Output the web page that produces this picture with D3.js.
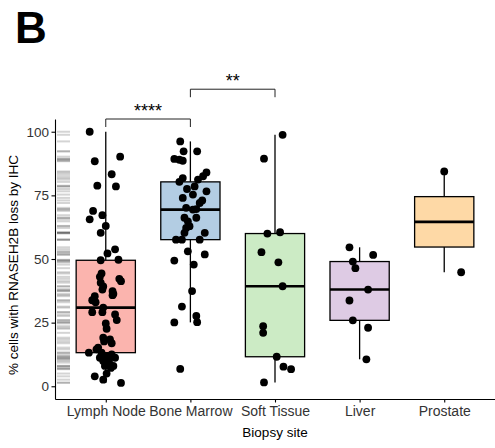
<!DOCTYPE html>
<html>
<head>
<meta charset="utf-8">
<script src="https://cdn.jsdelivr.net/npm/d3@7"></script>
<style>
  body { margin: 0; background: #fff; }
  svg { display: block; font-family: "Liberation Sans", Arial, sans-serif; }
</style>
</head>
<body>
<svg id="chart" width="495" height="448"></svg>
<script>
// Biopsy sites in display order
const sites = ["Lymph Node", "Bone Marrow", "Soft Tissue", "Liver", "Prostate"];
const siteFills = ["#FBB4AE", "#B3CDE3", "#CCEBC5", "#DECBE4", "#FED9A6"];

// % cells with RNASEH2B loss, one value per sample, with its horizontal jitter (in category widths)
const lymphNodeValues = [100, 90.2, 88.4, 83.3, 78.8, 78.5, 68.9, 67.2, 65.6, 63.0, 60.3, 53.8, 52.2,
  49.5, 49.7, 44.3, 42.2, 41.3, 40.7, 38.0, 37.4, 36.3, 35.4, 33.8, 30.9, 29.1, 29.1, 28.2, 26.0,
  24.7, 22.6, 19.1, 18.4, 16.9, 15.2, 14.5, 13.2, 13.2, 12.5, 11.9, 11.2, 11.2, 9.9, 9.3, 8.0, 8.0,
  5.0, 3.9, 2.6, 1.3, 10.6, 7.2, 17.6, 43.0, 39.2, 35.8, 33.0];
const lymphNodeJitter = [-0.19, 0.17, -0.13, 0.07, -0.10, 0.12, -0.15, -0.04, -0.19, 0.00, -0.06, 0.11, 0.02,
  -0.06, 0.15, -0.05, 0.16, 0.18, -0.06, -0.04, 0.08, 0.09, -0.13, -0.16, -0.03, -0.16, -0.04, 0.11, 0.13,
  0.00, 0.01, -0.03, 0.05, 0.07, -0.09, -0.11, -0.20, -0.05, 0.07, 0.01, -0.07, 0.11, -0.03, 0.04, 0.09, -0.01,
  0.01, -0.13, -0.03, 0.18, 0.03, 0.06, -0.02, -0.07, -0.03, 0.08, -0.12];

const boneMarrowValues = [96.2, 92.3, 92.3, 89.3, 89.0, 88.6, 84.0, 82.5, 81.8, 81.2, 80.3, 78.5, 77.5,
  76.6, 75.3, 74.0, 73.0, 72.0, 70.1, 69.6, 69.4, 66.2, 66.2, 64.8, 62.9, 62.2, 60.3, 60.3, 57.6, 57.6,
  57.6, 53.0, 51.8, 49.4, 47.8, 37.4, 31.3, 27.6, 25.2, 25.1, 6.8];
const boneMarrowJitter = [-0.12, -0.08, 0.08, -0.19, -0.13, -0.09, 0.19, 0.15, -0.09, 0.09, -0.13, 0.05, -0.04,
  0.19, 0.03, -0.09, 0.14, 0.11, -0.05, 0.07, 0.03, -0.07, 0.07, -0.03, -0.01, -0.05, -0.07, 0.17, -0.17, -0.10,
  0.11, -0.03, 0.17, -0.19, 0.04, 0.02, -0.10, 0.07, 0.08, -0.19, -0.12];

const softTissueValues = [98.8, 89.4, 60.5, 60.0, 52.7, 48.7, 39.3, 23.6, 21.0, 11.6, 7.7, 6.7, 1.5];
const softTissueJitter = [0.09, -0.13, 0.06, -0.09, -0.16, 0.04, 0.09, -0.14, -0.14, 0.02, 0.10, 0.19, -0.13];

const liverValues = [54.6, 51.6, 49.0, 46.4, 38.0, 33.7, 25.9, 23.0, 10.6];
const liverJitter = [-0.12, 0.16, -0.08, -0.05, 0.10, -0.12, -0.08, 0.10, 0.08];

const prostateValues = [84.4, 44.8];
const prostateJitter = [0.00, 0.20];

// Pairwise comparisons shown above the boxes
const comparisonPairs = [["Lymph Node", "Bone Marrow"], ["Bone Marrow", "Soft Tissue"]];
const comparisonLabels = ["****", "**"];
const comparisonLevels = [105, 116.7];

const yTicks = [0, 25, 50, 75, 100];

const groups = [
  { site: sites[0], values: lymphNodeValues, jitter: lymphNodeJitter, fill: siteFills[0] },
  { site: sites[1], values: boneMarrowValues, jitter: boneMarrowJitter, fill: siteFills[1] },
  { site: sites[2], values: softTissueValues, jitter: softTissueJitter, fill: siteFills[2] },
  { site: sites[3], values: liverValues, jitter: liverJitter, fill: siteFills[3] },
  { site: sites[4], values: prostateValues, jitter: prostateJitter, fill: siteFills[4] }
];

// Tukey box statistics
groups.forEach(g => {
  const s = g.values.slice().sort(d3.ascending);
  g.q1 = d3.quantileSorted(s, 0.25);
  g.median = d3.quantileSorted(s, 0.5);
  g.q3 = d3.quantileSorted(s, 0.75);
  const iqr = g.q3 - g.q1;
  g.lo = d3.min(s.filter(v => v >= g.q1 - 1.5 * iqr));
  g.hi = d3.max(s.filter(v => v <= g.q3 + 1.5 * iqr));
});

const svg = d3.select("#chart");
const panel = { left: 55, right: 495, top: 119, bottom: 399 };

const x = d3.scalePoint().domain(sites).range([panel.left, panel.right]).padding(0.6);
const y = d3.scaleLinear().domain([-5, 105]).range([panel.bottom, panel.top]);
const step = x.step();
const boxW = step * 0.7;

// Panel tag
svg.append("text")
  .attr("x", 15).attr("y", 43)
  .attr("font-size", 44).attr("font-weight", "bold")
  .attr("fill", "#000")
  .text("B");

// Rug of every sample along the y axis
const allValues = groups.flatMap(g => g.values);
svg.append("g")
  .selectAll("line")
  .data(allValues)
  .join("line")
  .attr("x1", panel.left + 2).attr("x2", panel.left + 15)
  .attr("y1", d => y(d)).attr("y2", d => y(d))
  .attr("stroke", "#000").attr("stroke-opacity", 0.17).attr("stroke-width", 2);

// Boxplots
const boxes = svg.append("g").selectAll("g").data(groups).join("g");
boxes.append("line")
  .attr("x1", d => x(d.site)).attr("x2", d => x(d.site))
  .attr("y1", d => y(d.q3)).attr("y2", d => y(d.hi))
  .attr("stroke", "#000").attr("stroke-width", 1.3);
boxes.append("line")
  .attr("x1", d => x(d.site)).attr("x2", d => x(d.site))
  .attr("y1", d => y(d.q1)).attr("y2", d => y(d.lo))
  .attr("stroke", "#000").attr("stroke-width", 1.3);
boxes.append("rect")
  .attr("x", d => x(d.site) - boxW / 2).attr("width", boxW)
  .attr("y", d => y(d.q3)).attr("height", d => y(d.q1) - y(d.q3))
  .attr("fill", d => d.fill).attr("stroke", "#000").attr("stroke-width", 1.3);
boxes.append("line")
  .attr("x1", d => x(d.site) - boxW / 2).attr("x2", d => x(d.site) + boxW / 2)
  .attr("y1", d => y(d.median)).attr("y2", d => y(d.median))
  .attr("stroke", "#000").attr("stroke-width", 2.6);

// Jittered sample points
const pts = groups.flatMap(g => g.values.map((v, i) => ({ site: g.site, v, j: g.jitter[i] })));
svg.append("g")
  .selectAll("circle")
  .data(pts)
  .join("circle")
  .attr("cx", d => x(d.site) + d.j * step)
  .attr("cy", d => y(d.v))
  .attr("r", 3.9)
  .attr("fill", "#000");

// Axes
const yAxis = svg.append("g")
  .attr("transform", `translate(${panel.left},0)`)
  .call(d3.axisLeft(y).tickValues(yTicks).tickSize(3.5).tickSizeOuter(0).tickPadding(2.5));
const xAxis = svg.append("g")
  .attr("transform", `translate(0,${panel.bottom})`)
  .call(d3.axisBottom(x).tickSize(3.5).tickSizeOuter(0).tickPadding(3.5));
[yAxis, xAxis].forEach(a => {
  a.selectAll("path, line").attr("stroke", "#000").attr("stroke-width", 1.1);
  a.selectAll("text").attr("fill", "#333")
    .attr("font-family", "'Liberation Sans', Arial, sans-serif");
});
yAxis.selectAll("text").attr("font-size", 13.5);
xAxis.selectAll("text").attr("font-size", 14);

// Axis titles
svg.append("text")
  .attr("x", (panel.left + panel.right) / 2).attr("y", 437)
  .attr("text-anchor", "middle").attr("font-size", 13.5).attr("fill", "#000")
  .text("Biopsy site");
svg.append("text")
  .attr("transform", `translate(18,${(panel.top + panel.bottom) / 2 + 6}) rotate(-90)`)
  .attr("text-anchor", "middle").attr("font-size", 13.5).attr("fill", "#000")
  .text("% cells with RNASEH2B loss by IHC");

// Significance brackets
const brackets = svg.append("g").selectAll("g")
  .data(comparisonPairs.map((p, i) => ({ a: p[0], b: p[1], label: comparisonLabels[i], level: comparisonLevels[i] })))
  .join("g");
brackets.append("path")
  .attr("d", d => `M${x(d.a)},${y(d.level) + 8}V${y(d.level)}H${x(d.b)}V${y(d.level) + 8}`)
  .attr("fill", "none").attr("stroke", "#222").attr("stroke-width", 1);
brackets.append("text")
  .attr("x", d => (x(d.a) + x(d.b)) / 2)
  .attr("y", d => y(d.level) - 2.5)
  .attr("text-anchor", "middle").attr("font-size", 18).attr("fill", "#000")
  .text(d => d.label);
</script>
</body>
</html>
